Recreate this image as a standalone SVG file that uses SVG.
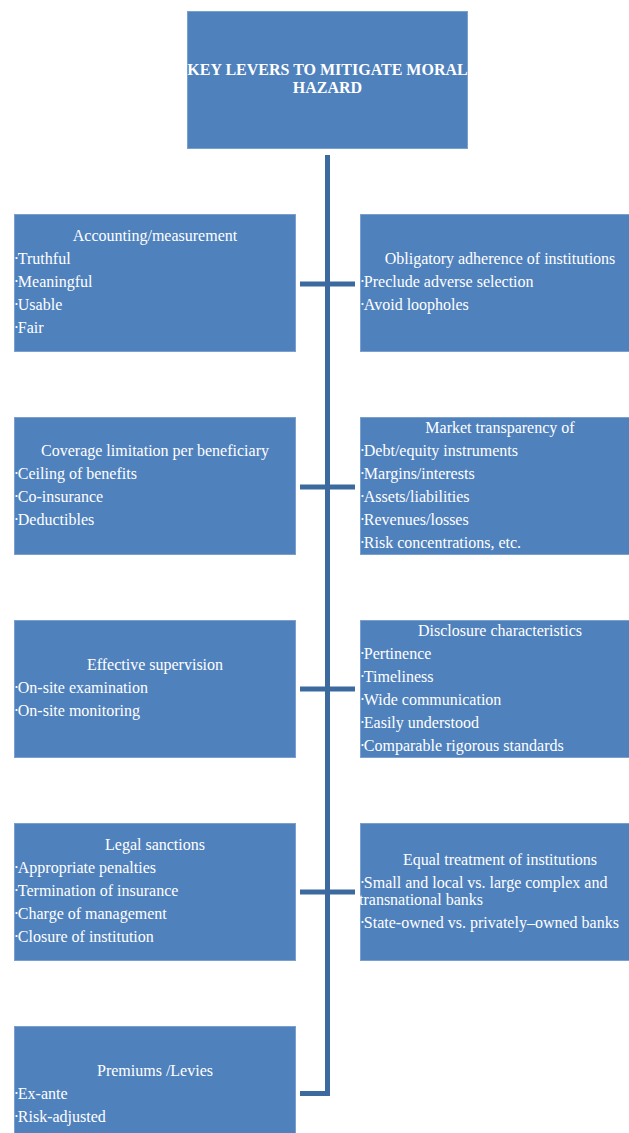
<svg xmlns="http://www.w3.org/2000/svg" width="629" height="1133" viewBox="0 0 629 1133">
<style>
.box{fill:#4F81BD;stroke:#7BA0CF;stroke-width:1}
.t{font-family:"Liberation Serif","Times New Roman",serif;font-size:16px;fill:#fff}
.h{text-anchor:middle}
.title{font-family:"Liberation Serif","Times New Roman",serif;font-size:16px;font-weight:bold;fill:#fff;text-anchor:middle}
.b{font-size:8px;baseline-shift:3px}
.c{fill:none;stroke:#3D6A9E;stroke-width:5}
</style>
<rect width="629" height="1133" fill="#fff"/>
<g id="connectors">
<path class="c" d="M327.5 155 V1093.5 H300"/>
<path class="c" d="M300 284 H355"/>
<path class="c" d="M300 487 H355"/>
<path class="c" d="M300 689 H355"/>
<path class="c" d="M300 892 H355"/>
</g>
<g id="title">
<rect class="box" x="187.5" y="11.5" width="280" height="137"/>
<text class="title" x="327.5" y="75">KEY LEVERS TO MITIGATE MORAL</text>
<text class="title" x="327.5" y="93">HAZARD</text>
</g>
<g id="accounting">
<rect class="box" x="14.5" y="214.5" width="281" height="137"/>
<text class="t h" x="155" y="241">Accounting/measurement</text>
<text class="t" x="15" y="264"><tspan class="b">•</tspan>Truthful</text>
<text class="t" x="15" y="287"><tspan class="b">•</tspan>Meaningful</text>
<text class="t" x="15" y="310"><tspan class="b">•</tspan>Usable</text>
<text class="t" x="15" y="333"><tspan class="b">•</tspan>Fair</text>
</g>
<g id="obligatory">
<rect class="box" x="360.5" y="214.5" width="281" height="137"/>
<text class="t h" x="500" y="264">Obligatory adherence of institutions</text>
<text class="t" x="361" y="287"><tspan class="b">•</tspan>Preclude adverse selection</text>
<text class="t" x="361" y="310"><tspan class="b">•</tspan>Avoid loopholes</text>
</g>
<g id="coverage">
<rect class="box" x="14.5" y="417.5" width="281" height="137"/>
<text class="t h" x="155" y="456">Coverage limitation per beneficiary</text>
<text class="t" x="15" y="479"><tspan class="b">•</tspan>Ceiling of benefits</text>
<text class="t" x="15" y="502"><tspan class="b">•</tspan>Co-insurance</text>
<text class="t" x="15" y="525"><tspan class="b">•</tspan>Deductibles</text>
</g>
<g id="market">
<rect class="box" x="360.5" y="417.5" width="281" height="137"/>
<text class="t h" x="500" y="433">Market transparency of</text>
<text class="t" x="361" y="456"><tspan class="b">•</tspan>Debt/equity instruments</text>
<text class="t" x="361" y="479"><tspan class="b">•</tspan>Margins/interests</text>
<text class="t" x="361" y="502"><tspan class="b">•</tspan>Assets/liabilities</text>
<text class="t" x="361" y="525"><tspan class="b">•</tspan>Revenues/losses</text>
<text class="t" x="361" y="548"><tspan class="b">•</tspan>Risk concentrations, etc.</text>
</g>
<g id="supervision">
<rect class="box" x="14.5" y="620.5" width="281" height="137"/>
<text class="t h" x="155" y="670">Effective supervision</text>
<text class="t" x="15" y="693"><tspan class="b">•</tspan>On-site examination</text>
<text class="t" x="15" y="716"><tspan class="b">•</tspan>On-site monitoring</text>
</g>
<g id="disclosure">
<rect class="box" x="360.5" y="620.5" width="281" height="137"/>
<text class="t h" x="500" y="636">Disclosure characteristics</text>
<text class="t" x="361" y="659"><tspan class="b">•</tspan>Pertinence</text>
<text class="t" x="361" y="682"><tspan class="b">•</tspan>Timeliness</text>
<text class="t" x="361" y="705"><tspan class="b">•</tspan>Wide communication</text>
<text class="t" x="361" y="728"><tspan class="b">•</tspan>Easily understood</text>
<text class="t" x="361" y="751"><tspan class="b">•</tspan>Comparable rigorous standards</text>
</g>
<g id="legal">
<rect class="box" x="14.5" y="823.5" width="281" height="137"/>
<text class="t h" x="155" y="850">Legal sanctions</text>
<text class="t" x="15" y="873"><tspan class="b">•</tspan>Appropriate penalties</text>
<text class="t" x="15" y="896"><tspan class="b">•</tspan>Termination of insurance</text>
<text class="t" x="15" y="919"><tspan class="b">•</tspan>Charge of management</text>
<text class="t" x="15" y="942"><tspan class="b">•</tspan>Closure of institution</text>
</g>
<g id="equal">
<rect class="box" x="360.5" y="823.5" width="281" height="137"/>
<text class="t h" x="500" y="865">Equal treatment of institutions</text>
<text class="t" x="361" y="888"><tspan class="b">•</tspan>Small and local vs. large complex and</text>
<text class="t" x="359" y="905">transnational banks</text>
<text class="t" x="361" y="928"><tspan class="b">•</tspan>State-owned vs. privately–owned banks</text>
</g>
<g id="premiums">
<rect class="box" x="14.5" y="1026.5" width="281" height="137"/>
<text class="t h" x="155" y="1076">Premiums /Levies</text>
<text class="t" x="15" y="1099"><tspan class="b">•</tspan>Ex-ante</text>
<text class="t" x="15" y="1122"><tspan class="b">•</tspan>Risk-adjusted</text>
</g>
</svg>
